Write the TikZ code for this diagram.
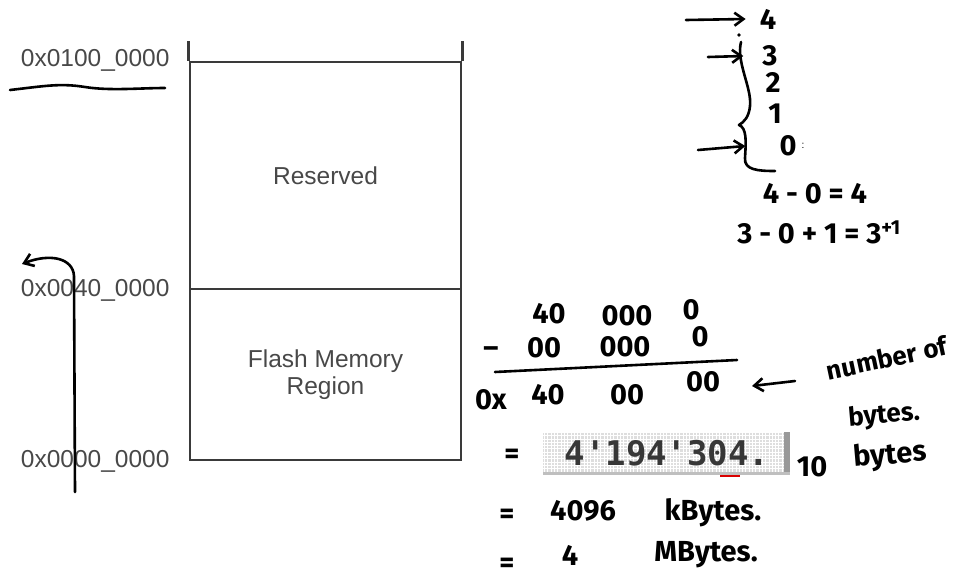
\documentclass[tikz,border=0pt]{standalone}
\usepackage{fontspec}
\setmainfont{Liberation Sans}
\newfontfamily\handfont{Fira Sans}
\newfontfamily\dispfont{DejaVu Sans Mono}
\usetikzlibrary{positioning,arrows.meta}
\definecolor{mapgray}{RGB}{58,58,58}
\definecolor{labgray}{RGB}{72,72,72}
\definecolor{dispgray}{RGB}{222,222,222}
\definecolor{dispink}{RGB}{55,55,55}

\begin{document}
\begin{tikzpicture}[x=1pt,y=-1pt,
  every node/.style={inner sep=0pt},
  mapbox/.style={draw=mapgray,line width=2.7pt,minimum width=271pt,
    text=labgray,align=center,font=\fontsize{24.5}{27}\selectfont},
  addr/.style={text=labgray,font=\fontsize{24.5}{27}\selectfont},
  ink/.style={draw=black,line width=2.6pt,line cap=round,line join=round},
  inkarrow/.style={ink,-{Straight Barb[length=9pt,width=13pt]}},
  hand/.style={font=\handfont\bfseries\fontsize{29}{31}\selectfont},
  smallhand/.style={font=\handfont\bfseries\fontsize{26}{28}\selectfont}]
  \useasboundingbox (0,0) rectangle (974,579);
  \node[mapbox,minimum height=227pt] (reserved) at (325.5,175.5) {Reserved};
  \node[mapbox,minimum height=171pt] (flash) at (325.5,374.5) {Flash Memory\\Region};
  \draw[draw=mapgray,line width=2.7pt] (reserved.north west) -- ++(0,-20);
  \draw[draw=mapgray,line width=2.7pt] (reserved.north east) -- ++(0,-20);
  \node[addr,left=19pt of reserved.north west] (top) {0x0100\_0000};
  \node[addr,left=19pt of reserved.south west] (mid) {0x0040\_0000};
  \node[addr,left=19pt of flash.south west] (low) {0x0000\_0000};

  \draw[ink] (10,90) .. controls (45,86) and (60,83) .. (85,87)
    .. controls (110,91) and (140,88) .. (165,88);
  \coordinate (upfoot) at (75,492);
  \coordinate (uptip) at (22,264);
  \draw[inkarrow] (upfoot) -- (74,276) .. controls (73,258) and (50,253) .. (uptip);

  \node[hand] (four) at (768,19) {4};
  \node[hand] (three) at (770,56) {3};
  \node[hand] (two) at (773,82) {2};
  \node[hand] (one) at (775,114) {1};
  \node[hand] (zero) at (788,146) {0};
  \node[font=\fontsize{10}{10}\selectfont] at (803,146) {:};
  \coordinate (s4) at (686,20);
  \coordinate (s3) at (708,57);
  \coordinate (s0) at (698,150);
  \draw[inkarrow] (s4) -- ([xshift=-14pt]four.west);
  \draw[inkarrow] (s3) -- ([xshift=-19pt]three.west);
  \draw[inkarrow] (s0) -- ([xshift=-34pt]zero.west);
  \fill (739,35) circle (1.8pt);
  \draw[ink] (741,42) .. controls (736,62) and (752,88) .. (750,106)
    .. controls (749,117) and (744,122) .. (739,125)
    .. controls (747,128) and (746,142) .. (745,158)
    .. controls (744,170) and (758,171) .. (775,171);
  \node[hand] (diff) at (815,194) {4 - 0 = 4};
  \node[hand] (count) at (819,232) {3 - 0 + 1 = 3\textsuperscript{+1}};

  \foreach \t/\x/\y in {40/549/314, 000/627/316, 0/691/310,
      00/544/348, 000/625/347, 0/700/337,
      0x/491/400, 40/548/395, 00/627/395, 00/703/382}
    \node[hand] at (\x,\y) {\t};
  \node[hand] (minus) at (491,352) {\textendash};
  \coordinate (barl) at (495,372);
  \coordinate (barr) at (737,360);
  \draw[ink] (barl) -- (barr);
  \coordinate (ptr) at (795,381);
  \coordinate (ptrtip) at (752,386);
  \draw[inkarrow] (ptr) -- (ptrtip);
  \node[smallhand,rotate=12] (numof) at (887,358) {number of};
  \node[smallhand,rotate=5] (bytes) at (884,416) {bytes.};

  \node[hand] (eqa) at (512,456) {=};
  \coordinate (dsw) at (543,475);
  \coordinate (dne) at (790,432);
  \fill[dispgray] (dsw) rectangle (dne);
  \draw[white,line width=0.8pt] (dsw) grid[step=3.3pt] (dne);
  \fill[gray!80] (784,432) rectangle (dne |- dsw);
  \fill[gray!50] (543,472) rectangle (790,475);
  \draw[red!85!black,line width=1.5pt] (720,476) -- (740,476);
  \node[font=\dispfont\bfseries\fontsize{34}{34}\selectfont,text=dispink] (display) at (667,453) {4'194'304.};
  \node[hand] (ten) at (812,467) {10};
  \node[hand,rotate=5] (bytesb) at (890,456) {bytes};

  \node[hand] (eqb) at (507,516) {=};
  \node[hand] (kilo) at (583,511) {4096};
  \node[hand] (kunit) at (713,513) {kBytes.};
  \node[hand] (eqc) at (507,565) {=};
  \node[hand] (mega) at (570,555) {4};
  \node[hand] (munit) at (706,555) {MBytes.};
\end{tikzpicture}
\end{document}
